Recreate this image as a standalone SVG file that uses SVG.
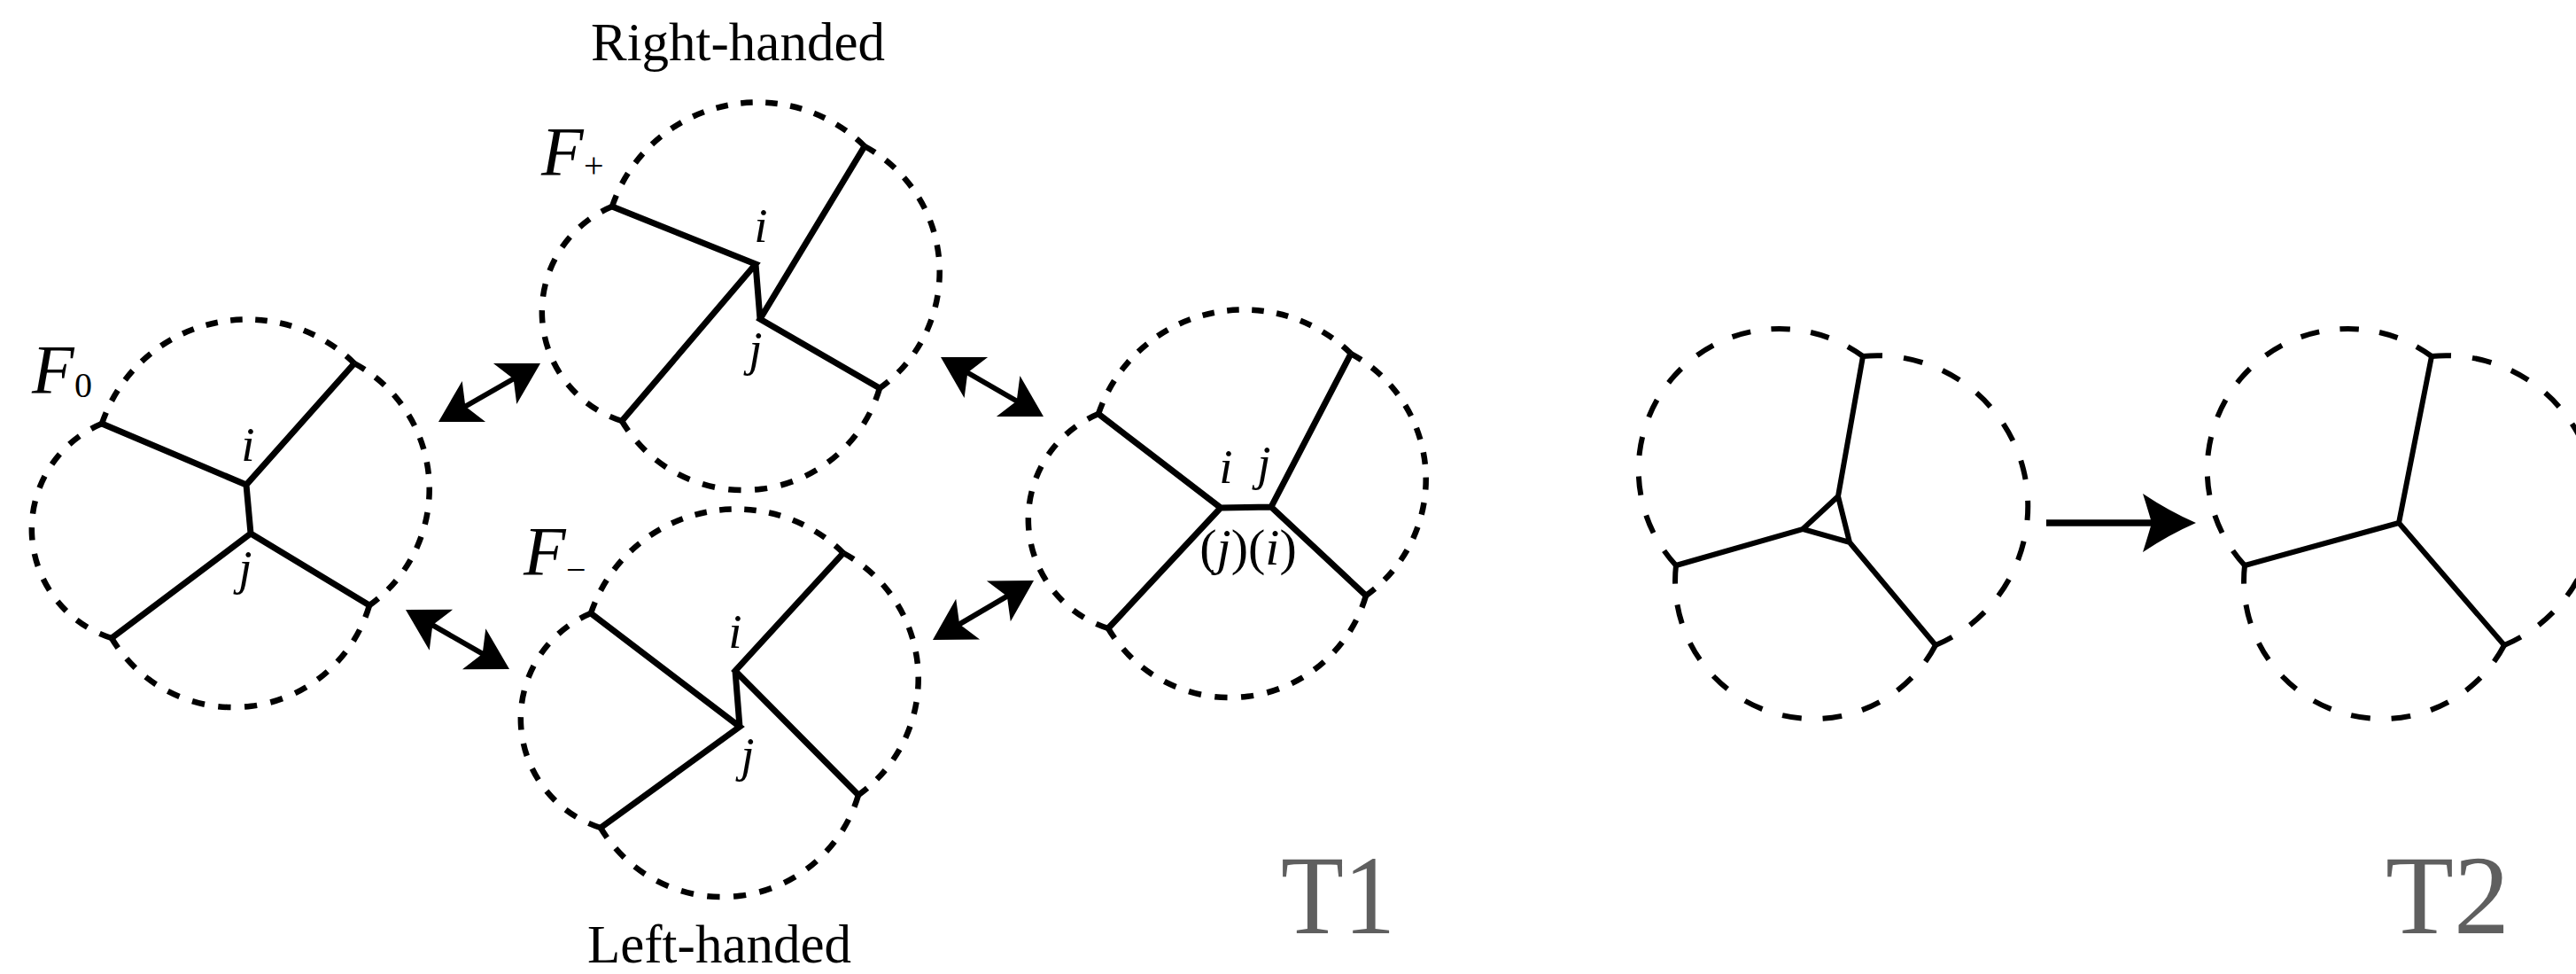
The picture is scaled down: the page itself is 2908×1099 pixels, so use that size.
<svg xmlns="http://www.w3.org/2000/svg" xmlns:xlink="http://www.w3.org/1999/xlink" width="2908" height="1099" viewBox="0 0 2908 1099">
<style>
.bd path{fill:none;stroke:#000;stroke-width:6.5;stroke-dasharray:14 15;}
.bd2 path{fill:none;stroke:#000;stroke-width:6;stroke-dasharray:21 23;}
.edge{fill:none;stroke:#000;stroke-width:7;stroke-linejoin:miter;}
.edge2{fill:none;stroke:#000;stroke-width:6;stroke-linejoin:miter;}
.arr{fill:none;stroke:#000;stroke-width:6;}
.arr2{fill:none;stroke:#000;stroke-width:7.5;}
.lab{font-family:"Liberation Serif","Times New Roman",serif;fill:#000;}
.it{font-style:italic;}
.big{font-family:"Liberation Serif","Times New Roman",serif;fill:#5f5f5f;font-size:126px;}
</style>
<defs>
<marker id="h1" markerUnits="userSpaceOnUse" markerWidth="60" markerHeight="60" refX="28" refY="0" orient="auto-start-reverse" overflow="visible">
<path d="M0,-26.5 L46,0 L0,26.5 L11,0 Z" fill="#000"/>
</marker>
<marker id="h2" markerUnits="userSpaceOnUse" markerWidth="70" markerHeight="70" refX="36" refY="0" orient="auto" overflow="visible">
<path d="M60,0 Q30,-13 0,-33 Q6,-14 10,0 Q6,14 0,33 Q30,13 60,0 Z" fill="#000"/>
</marker>
<g id="bd" class="bd">
<path d="M115,478 A173,173 0 0 1 400,410" pathLength="361"/>
<path d="M400,410 A161,161 0 0 1 417,683" pathLength="332"/>
<path d="M417,683 A160,160 0 0 1 126,720" pathLength="361"/>
<path d="M126,720 A129,129 0 0 1 115,478" pathLength="303"/>
</g>
<g id="bd2" class="bd2">
<path d="M1892,638 A159,159 0 0 1 2103,402" pathLength="460"/>
<path d="M2103,402 A170,170 0 0 1 2185,728" pathLength="460"/>
<path d="M2185,728 A156,156 0 0 1 1892,638" pathLength="416"/>
</g>
</defs>
<rect width="2908" height="1099" fill="#fff"/>

<text class="lab" x="833" y="68" font-size="61" text-anchor="middle">Right-handed</text>
<text class="lab" x="812" y="1086" font-size="61" text-anchor="middle">Left-handed</text>

<g id="F0">
<use xlink:href="#bd"/>
<path class="edge" d="M115,478 L278,547 L400,410 M278,547 L283,602 M126,720 L283,602 L417,683"/>
<text class="lab"><tspan class="it" x="36" y="443" font-size="78">F</tspan><tspan x="84" y="448" font-size="40">0</tspan></text>
<text class="lab it" x="280" y="520" font-size="55" text-anchor="middle">i</text>
<text class="lab it" x="277" y="659" font-size="55" text-anchor="middle">j</text>
</g>

<g id="Fplus">
<use xlink:href="#bd" transform="translate(576,-245)"/>
<path class="edge" d="M691,233 L853,298 L702,475 M853,298 L858,360 M976,165 L858,360 L993,438"/>
<text class="lab"><tspan class="it" x="611" y="197" font-size="78">F</tspan><tspan x="659" y="200" font-size="40">+</tspan></text>
<text class="lab it" x="859" y="273" font-size="55" text-anchor="middle">i</text>
<text class="lab it" x="853" y="412" font-size="55" text-anchor="middle">j</text>
</g>

<g id="Fminus">
<use xlink:href="#bd" transform="translate(552,214)"/>
<path class="edge" d="M952,624 L830,757 L969,897 M830,757 L835,820 M667,692 L835,820 L678,934"/>
<text class="lab"><tspan class="it" x="591" y="648" font-size="78">F</tspan><tspan x="639" y="656" font-size="40">−</tspan></text>
<text class="lab it" x="830" y="731" font-size="55" text-anchor="middle">i</text>
<text class="lab it" x="844" y="870" font-size="55" text-anchor="middle">j</text>
</g>

<g id="Fright">
<use xlink:href="#bd" transform="translate(1125,-11)"/>
<path class="edge" d="M1240,467 L1378,573 L1251,709 M1378,573 L1435,572 M1525,399 L1435,572 L1542,672"/>
<text class="lab it" x="1384" y="545" font-size="55" text-anchor="middle">i</text>
<text class="lab it" x="1427" y="541" font-size="55" text-anchor="middle">j</text>
<text class="lab" x="1409" y="637" font-size="58" text-anchor="middle">(<tspan class="it">j</tspan>)(<tspan class="it">i</tspan>)</text>
</g>

<g id="T2left">
<use xlink:href="#bd2"/>
<path class="edge2" d="M2103,402 L2075,560 M1892,638 L2035,597 M2185,728 L2088,612 M2075,560 L2035,597 L2088,612 Z"/>
</g>

<g id="T2right">
<use xlink:href="#bd2" transform="translate(642,0)"/>
<path class="edge2" d="M2745,402 L2708,590 L2534,638 M2708,590 L2827,728"/>
</g>

<g id="connectors">
<path class="arr" d="M510.6,467 L594.4,419" marker-start="url(#h1)" marker-end="url(#h1)"/>
<path class="arr" d="M473.6,696.9 L559.4,746.1" marker-start="url(#h1)" marker-end="url(#h1)"/>
<path class="arr" d="M1077.6,412 L1162.4,461" marker-start="url(#h1)" marker-end="url(#h1)"/>
<path class="arr" d="M1068.5,712.9 L1151.5,664.1" marker-start="url(#h1)" marker-end="url(#h1)"/>
<path class="arr2" d="M2310,590 L2455,590" marker-end="url(#h2)"/>
</g>

<text class="big" x="1446" y="1053" textLength="129" lengthAdjust="spacingAndGlyphs">T1</text>
<text class="big" x="2693" y="1053" textLength="140" lengthAdjust="spacingAndGlyphs">T2</text>
</svg>
